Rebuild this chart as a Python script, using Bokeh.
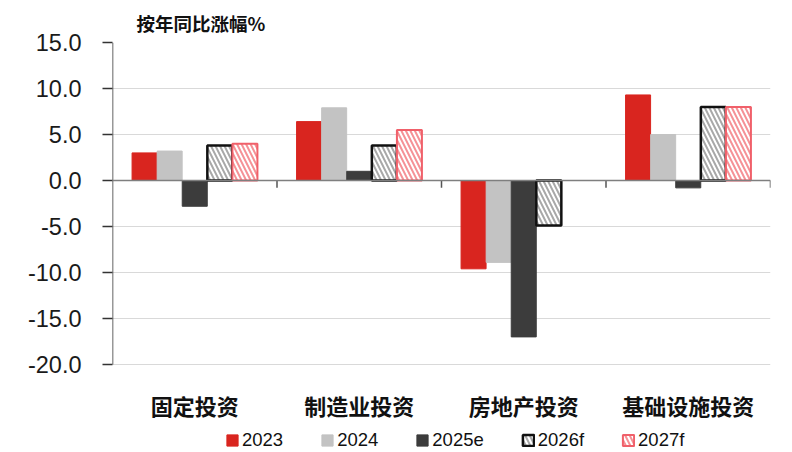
from bokeh.plotting import figure
from bokeh.models import (Range1d, FixedTicker, NumeralTickFormatter, Span,
                          Legend, LegendItem, ColumnDataSource)
from bokeh.core.properties import value
from bokeh.embed import file_html
from bokeh.resources import INLINE

categories = ["固定投资", "制造业投资", "房地产投资", "基础设施投资"]
series_names = ["2023", "2024", "2025e", "2026f", "2027f"]
v2023 = [3.0, 6.4, -9.6, 9.3]
v2024 = [3.2, 7.9, -8.9, 5.0]
v2025e = [-2.8, 1.0, -17.0, -0.8]
v2026f = [3.8, 3.8, -4.9, 8.0]
v2027f = [4.0, 5.5, float("nan"), 8.0]
y_ticks = [-20, -15, -10, -5, 0, 5, 10, 15]
title_text = "按年同比涨幅%"

series_values = [v2023, v2024, v2025e, v2026f, v2027f]

CJK = "Noto Sans CJK SC"
LAT = "Liberation Sans"

W, H = 792, 452
TOP, LEFT, RIGHT = 42, 112, 22
AXIS_PX = 322                      # pixel height of the value axis (15 .. -20)
frame_h = H - TOP
y_lo = y_ticks[-1] - (y_ticks[-1] - y_ticks[0]) * frame_h / AXIS_PX

p = figure(width=W, height=H, output_backend="svg", toolbar_location=None,
           x_range=Range1d(0, len(categories)), y_range=Range1d(y_lo, y_ticks[-1]),
           min_border_left=LEFT, min_border_right=RIGHT, min_border_top=TOP,
           min_border_bottom=0)
p.outline_line_color = None
p.background_fill_color = "white"
p.xaxis.visible = False

# title
p.title.text = title_text
p.title.align = "left"
p.title.offset = 24
p.title.text_font = CJK
p.title.text_font_size = "18.5px"
p.title.text_font_style = "bold"
p.title.text_color = "#111111"
p.title.standoff = 14

# y axis (line drawn separately so it stops at the lowest tick)
p.yaxis.ticker = FixedTicker(ticks=y_ticks)
p.yaxis.formatter = NumeralTickFormatter(format="0.0")
p.yaxis.major_label_text_font = LAT
p.yaxis.major_label_text_font_size = "23.5px"
p.yaxis.major_label_text_color = "#1a1a1a"
p.yaxis.axis_line_color = None
p.yaxis.major_tick_line_color = "#333333"
p.yaxis.major_tick_line_width = 1.5
p.yaxis.major_tick_out = 10
p.yaxis.major_tick_in = 0
p.yaxis.minor_tick_line_color = None
p.yaxis.major_label_standoff = 21
p.segment(x0=[0], y0=[y_ticks[0]], x1=[0], y1=[y_ticks[-1]],
          line_color="#333333", line_width=1.5)

p.xgrid.grid_line_color = None
p.ygrid.ticker = FixedTicker(ticks=y_ticks)
p.ygrid.grid_line_color = "#d9d9d9"
p.ygrid.grid_line_width = 1

# zero line and category boundary ticks
p.add_layout(Span(location=0, dimension="width", line_color="#7f7f7f", line_width=1.5))
bounds = list(range(1, len(categories) + 1))
p.segment(x0=bounds, y0=[0] * len(bounds), x1=bounds, y1=[-0.8] * len(bounds),
          line_color="#555555", line_width=1.5)

# category labels below the value axis
centers = [i + 0.5 for i in range(len(categories))]
p.text(x=centers, y=[y_ticks[0]] * len(categories), text=categories,
       y_offset=40, text_align="center", text_baseline="middle",
       text_font=value(CJK), text_font_size="22px", text_font_style="bold",
       text_color="#111111")

# bars
n = len(series_names)
bw = 0.152
styles = [
    dict(fill_color="#d9251f", line_color="#d9251f", line_width=1),
    dict(fill_color="#c3c3c3", line_color="#c3c3c3", line_width=1),
    dict(fill_color="#3c3c3c", line_color="#3c3c3c", line_width=1),
    dict(fill_color="white", line_color="#111111", line_width=2.5,
         hatch_pattern="\\", hatch_color="#a8a8a8", hatch_scale=9, hatch_weight=2),
    dict(fill_color="white", line_color="#f0606a", line_width=2,
         hatch_pattern="\\", hatch_color="#f59196", hatch_scale=9, hatch_weight=2),
]
items = []
for k, (name, vals) in enumerate(zip(series_names, series_values)):
    off = (k - (n - 1) / 2) * (bw + 0.0005)
    xs = [c + off for c in centers]
    src = ColumnDataSource(dict(x=xs, top=vals))
    r = p.vbar(x="x", top="top", bottom=0, width=bw, source=src, **styles[k])
    items.append(LegendItem(label=name, renderers=[r]))

legend = Legend(items=items, orientation="horizontal", location=(113, 1),
                label_text_font=LAT, label_text_font_size="18.5px",
                label_text_color="#111111", label_standoff=3,
                glyph_width=14, glyph_height=14, spacing=37, padding=0, margin=0,
                border_line_color=None, background_fill_alpha=0, label_height=20)
p.add_layout(legend)

open("out.html", "w").write(file_html(p, INLINE))
